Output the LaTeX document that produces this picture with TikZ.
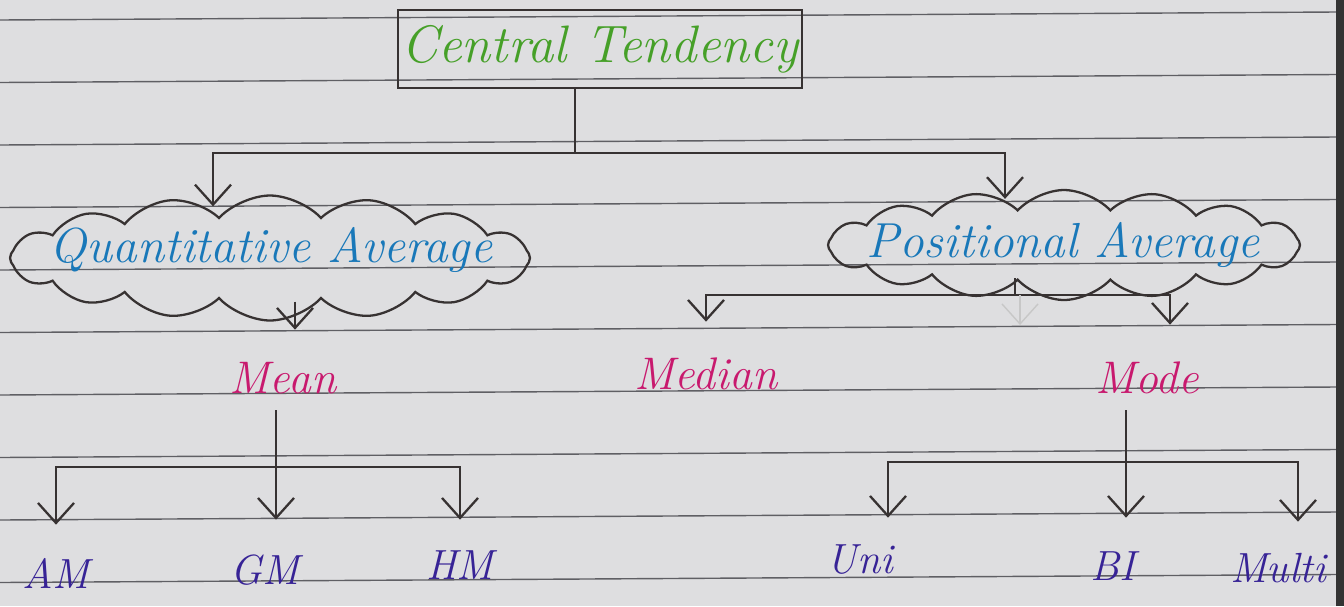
\documentclass[tikz,border=0pt]{standalone}
\usepackage{fontspec}
\usetikzlibrary{shapes.symbols,arrows.meta}
\definecolor{paper}{RGB}{222,222,224}
\definecolor{rulecol}{RGB}{95,95,100}
\definecolor{ink}{RGB}{55,50,50}
\definecolor{ctgreen}{RGB}{70,160,40}
\definecolor{avgblue}{RGB}{25,120,185}
\definecolor{measmag}{RGB}{200,25,110}
\definecolor{kindpurp}{RGB}{55,35,150}
\begin{document}
\begin{tikzpicture}[x=0.02cm,y=-0.02cm,
    pen/.style={draw=ink,line width=1.3pt},
    arr/.style={-{Straight Barb[length=0.4cm,width=0.72cm]}},
    ruled/.style={draw=rulecol,line width=0.8pt},
    puff/.style={pen,cloud,cloud puffs=16,cloud puff arc=95,cloud ignores aspect,inner sep=0pt},
    lbl/.style={inner sep=0pt,minimum height=0.8cm,text=measmag,font=\itshape\fontsize{26}{30}\selectfont},
    kind/.style={inner sep=0pt,minimum height=0.8cm,text=kindpurp,font=\itshape\fontsize{24}{28}\selectfont}]
  \useasboundingbox (0,0) rectangle (1344,606);
  % the ruled page
  \fill[paper] (0,0) rectangle (1344,606);
  \foreach \k in {0,...,9}
    \draw[ruled] (0,{20+62.5*\k}) -- (1336,{12+62.5*\k});
  \fill[black!80] (1336,0) rectangle (1344,606);

  % nodes
  \node[pen,minimum width=8.08cm,minimum height=1.56cm,inner sep=0pt,text=ctgreen,
    font=\itshape\fontsize{30}{36}\selectfont] (ct) at (600,49) {Central Tendency};
  \node[puff,minimum width=10.4cm,minimum height=2.5cm] (qa) at (270,258) {};
  \node[text=avgblue,font=\itshape\fontsize{28}{32}\selectfont] (qatext) at (271,250) {Quantitative Average};
  \node[puff,minimum width=9.44cm,minimum height=2.2cm] (pa) at (1064,245) {};
  \node[text=avgblue,font=\itshape\fontsize{28}{32}\selectfont] (patext) at (1063,245) {Positional Average};
  \node[lbl] (mean) at (283,378) {Mean};
  \node[lbl] (median) at (706,374) {Median};
  \node[lbl] (mode) at (1147,378) {Mode};
  \node[kind] (am) at (56,573) {AM};
  \node[kind] (gm) at (265,570) {GM};
  \node[kind] (hm) at (460,565) {HM};
  \node[kind] (uni) at (860,560) {Uni};
  \node[kind] (bi) at (1113,566) {BI};
  \node[kind] (multi) at (1278,568) {Multi};

  % forks
  \coordinate (ctfork) at (575,153);
  \coordinate (meanin) at (295,0);
  \coordinate (pafork) at (1015,295);
  \coordinate (mfork) at (276,467);
  \coordinate (mofork) at (1126,462);

  % connectors
  \draw[pen] (ct.south -| ctfork) -- (ctfork);
  \draw[pen,arr,shorten >=-0.24cm] (ctfork) -| ([xshift=-1.14cm]qa.north);
  \draw[pen,arr,shorten >=-0.2cm] (ctfork) -| ([xshift=-1.18cm]pa.north);
  \draw[pen,arr,shorten <=-0.4cm,shorten >=0.56cm] (qa.south -| meanin) -- (mean.north -| meanin);
  \draw[pen] (pafork) -- ++(0,-17);
  \draw[pen,arr,shorten >=0.64cm] (pafork) -| (median.north);
  \draw[pen,arr,shorten >=0.66cm] (pafork) -| ([xshift=0.46cm]mode.north);
  \draw[arr,draw=black!22,line width=0.8pt] ([xshift=0.1cm]pafork) -- ++(0,30);
  \draw[pen,arr,shorten <=0.24cm,shorten >=0.6cm] (mean.south -| mfork) -- (gm.north -| mfork);
  \draw[pen,arr,shorten >=0.56cm] (mfork) -| (am.north);
  \draw[pen,arr,shorten >=0.5cm] (mfork) -| (hm.north);
  \draw[pen,arr,shorten <=0.24cm,shorten >=0.56cm] (mode.south -| mofork) -- (bi.north -| mofork);
  \draw[pen,arr,shorten >=0.44cm] (mofork) -| ([xshift=0.56cm]uni.north);
  \draw[pen,arr,shorten >=0.52cm] (mofork) -| ([xshift=0.4cm]multi.north);
\end{tikzpicture}
\end{document}
